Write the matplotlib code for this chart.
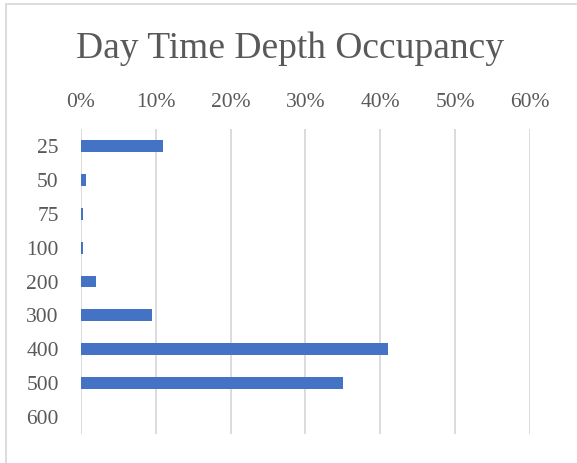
import matplotlib.pyplot as plt
from matplotlib.patches import Rectangle
from matplotlib.ticker import PercentFormatter

plt.rcParams['font.family'] = ['Liberation Serif', 'DejaVu Serif']

depths = ['25', '50', '75', '100', '200', '300', '400', '500', '600']
occupancy = [10.9, 0.7, 0.3, 0.3, 2.0, 9.5, 41.0, 35.0, 0.0]

fig = plt.figure(figsize=(5.77, 4.63), dpi=100)
ax = fig.add_axes([0.1404, 0.0626, 0.7781, 0.6588])

ypos = list(range(len(depths)))
ax.barh(ypos, occupancy, height=0.35, color='#4472C4', zorder=3)

ax.set_xlim(0, 60)
ax.set_ylim(len(depths) - 0.5, -0.5)
ax.set_xticks([0, 10, 20, 30, 40, 50, 60])
ax.xaxis.set_major_formatter(PercentFormatter(decimals=0))
ax.set_yticks(ypos)
ax.set_yticklabels(depths)

ax.xaxis.tick_top()
ax.tick_params(axis='x', length=0, pad=12, labelsize=15.5, colors='#595959')
ax.tick_params(axis='y', length=0, pad=16, labelsize=15.5, colors='#595959')
ax.grid(axis='x', color='#d9d9d9', linewidth=1.3, zorder=0)
for s in ax.spines.values():
    s.set_visible(False)

fig.text(0.503, 0.895, 'Day Time Depth Occupancy', ha='center', va='center',
         fontsize=27, color='#595959')

# outer chart border (right and bottom edges run off the canvas)
fig.patches.append(Rectangle((6 / 577, -0.01), 1.0, 1 - 4 / 463 + 0.01,
                             transform=fig.transFigure, fill=False,
                             edgecolor='#d9d9d9', linewidth=1.3))

fig.savefig('out.png', dpi=100)
